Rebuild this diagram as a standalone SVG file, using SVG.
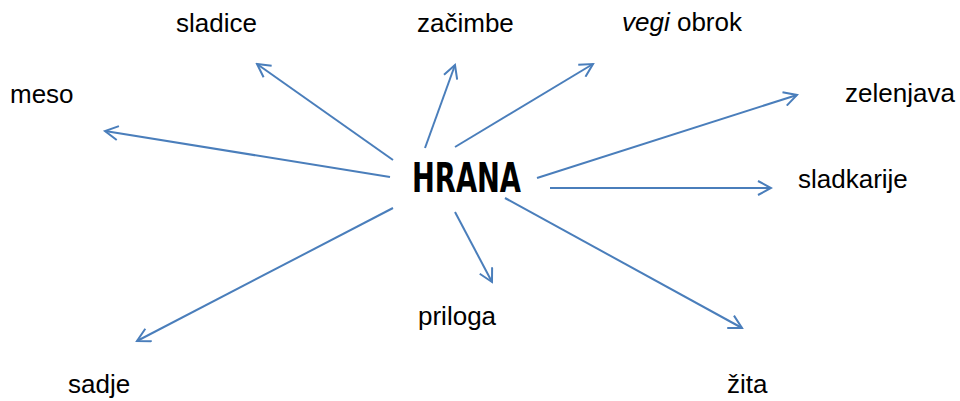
<svg xmlns="http://www.w3.org/2000/svg" width="960" height="401" viewBox="0 0 960 401">
<defs>
<marker id="ah" viewBox="0 0 16 16" refX="14" refY="8" markerWidth="16" markerHeight="16" markerUnits="userSpaceOnUse" orient="auto">
<path d="M1,1 L14,8 L1,15" fill="none" stroke="#4a7ebb" stroke-width="2"/>
</marker>
</defs>
<style>
.lbl{font-family:"Liberation Sans",Arial,sans-serif;font-size:26px;fill:#000}
.hub{font-family:"DejaVu Sans Condensed","DejaVu Sans",sans-serif;font-weight:bold;font-size:40px;fill:#000}
.c{stroke:#4a7ebb;stroke-width:2;fill:none;marker-end:url(#ah)}
</style>
<rect width="960" height="401" fill="#fff"/>
<g id="connectors">
<line class="c" x1="393" y1="160" x2="257" y2="64"/>
<line class="c" x1="425" y1="148" x2="455" y2="65"/>
<line class="c" x1="455" y1="147" x2="593" y2="64"/>
<line class="c" x1="537" y1="178" x2="797" y2="95"/>
<line class="c" x1="550" y1="188" x2="771" y2="188"/>
<line class="c" x1="390" y1="177" x2="105" y2="131"/>
<line class="c" x1="393" y1="208" x2="137" y2="341"/>
<line class="c" x1="455" y1="212" x2="492" y2="282"/>
<line class="c" x1="505" y1="198" x2="742" y2="328"/>
</g>
<g id="hrana"><text class="hub" x="412" y="192" textLength="109" lengthAdjust="spacingAndGlyphs">HRANA</text></g>
<g id="sladice"><text class="lbl" x="176" y="32">sladice</text></g>
<g id="zacimbe"><text class="lbl" x="417" y="32">začimbe</text></g>
<g id="vegi"><text class="lbl" x="622" y="31"><tspan font-style="italic">vegi</tspan> obrok</text></g>
<g id="meso"><text class="lbl" x="10" y="103">meso</text></g>
<g id="zelenjava"><text class="lbl" x="845" y="102">zelenjava</text></g>
<g id="sladkarije"><text class="lbl" x="798" y="188">sladkarije</text></g>
<g id="priloga"><text class="lbl" x="418" y="325">priloga</text></g>
<g id="sadje"><text class="lbl" x="68" y="393">sadje</text></g>
<g id="zita"><text class="lbl" x="727" y="393">žita</text></g>
</svg>
